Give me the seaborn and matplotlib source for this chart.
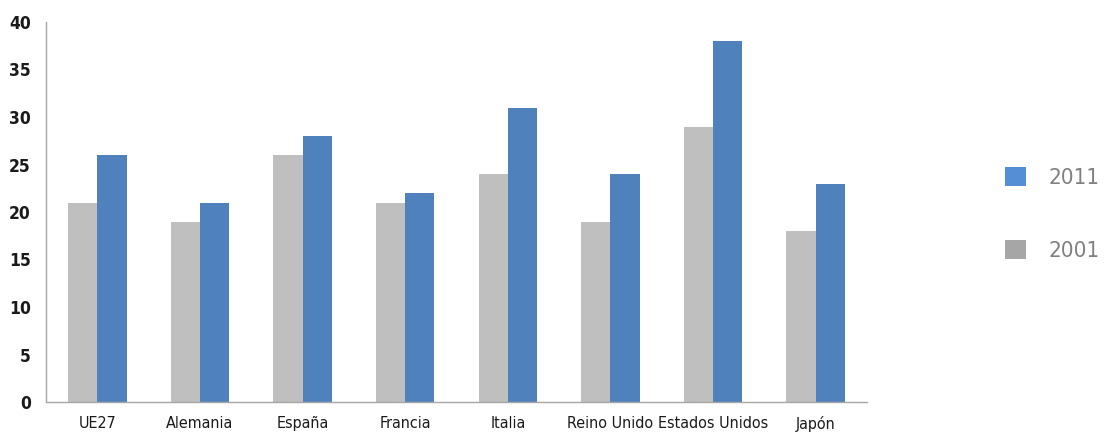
import matplotlib
matplotlib.use("Agg")
import matplotlib.pyplot as plt
import seaborn as sns
import pandas as pd
import numpy as np
from matplotlib.patches import Patch
from matplotlib import font_manager

categories = ["UE27", "Alemania", "España", "Francia", "Italia", "Reino Unido", "Estados Unidos", "Japón"]
values_2001 = [21, 19, 26, 21, 24, 19, 29, 18]
values_2011 = [26, 21, 28, 22, 31, 24, 38, 23]
series = ["2001", "2011"]
yticks = [0, 5, 10, 15, 20, 25, 30, 35, 40]

sns.set_style("white")


def find_font(keys, bold=False):
    for k in keys:
        for f in font_manager.fontManager.ttflist:
            fn = f.fname.lower()
            if k in fn and (("bold" in fn) == bold) and "oblique" not in fn and "italic" not in fn:
                return f.fname
    return None


reg_file = find_font(["liberationsansnarrow-regular", "dejavusanscondensed.", "robotocondensed-regular", "condensed"], bold=False)
bold_file = find_font(["liberationsansnarrow-bold.", "dejavusanscondensed-bold.", "robotocondensed-bold", "condensed"], bold=True)


def fp(size, bold=False):
    f = bold_file if bold else reg_file
    if f:
        return font_manager.FontProperties(fname=f, size=size)
    return font_manager.FontProperties(family="DejaVu Sans", size=size,
                                       weight="bold" if bold else "normal")


df = pd.DataFrame({
    "cat": categories * 2,
    "year": ["2001"] * len(categories) + ["2011"] * len(categories),
    "val": values_2001 + values_2011,
})

bar_colors = {"2001": "#BFBFBF", "2011": "#4F81BD"}

fig = plt.figure(figsize=(11.07, 4.32), dpi=100)
ax = fig.add_axes([46/1107, 30/432, (867-46)/1107, (402-22)/432])
sns.barplot(data=df, x="cat", y="val", hue="year", hue_order=series,
            palette=bar_colors, width=0.57, gap=0, ax=ax, legend=False,
            saturation=1, linewidth=0)

ax.set_xlim(-0.5, len(categories) - 0.5)
ax.set_ylim(0, 40)
ax.set_yticks(yticks)
ax.set_yticklabels([str(t) for t in yticks], color="#1a1a1a")
for t in ax.get_yticklabels():
    t.set_fontproperties(fp(12.5, bold=True))
ax.set_xlabel("")
ax.set_ylabel("")
ax.set_xticks(range(len(categories)))
ax.set_xticklabels(categories, color="#1a1a1a")
for t in ax.get_xticklabels():
    t.set_fontproperties(fp(11.5))
ax.tick_params(axis="x", which="major", length=0, pad=10)
ax.set_xticks(np.arange(-0.5, len(categories)), minor=True)
ax.tick_params(axis="x", which="minor", length=5, color="#A6A6A6", width=1, direction="out")
ax.tick_params(axis="y", which="major", length=5, color="#A6A6A6", width=1, direction="out", pad=6)

for s in ["top", "right"]:
    ax.spines[s].set_visible(False)
for s in ["left", "bottom"]:
    ax.spines[s].set_color("#A6A6A6")
    ax.spines[s].set_linewidth(1)

handles = [Patch(facecolor="#558ED5", edgecolor="none", label="2011"),
           Patch(facecolor="#A6A6A6", edgecolor="none", label="2001")]
leg = fig.legend(handles=handles, loc="center left", bbox_to_anchor=(1005/1107, 218/432),
                 frameon=False, prop=fp(16), labelcolor="#808080",
                 handlelength=0.95, handleheight=0.95, handletextpad=1.0, labelspacing=2.35,
                 borderaxespad=0, borderpad=0)

fig.savefig("out.png", dpi=100)
